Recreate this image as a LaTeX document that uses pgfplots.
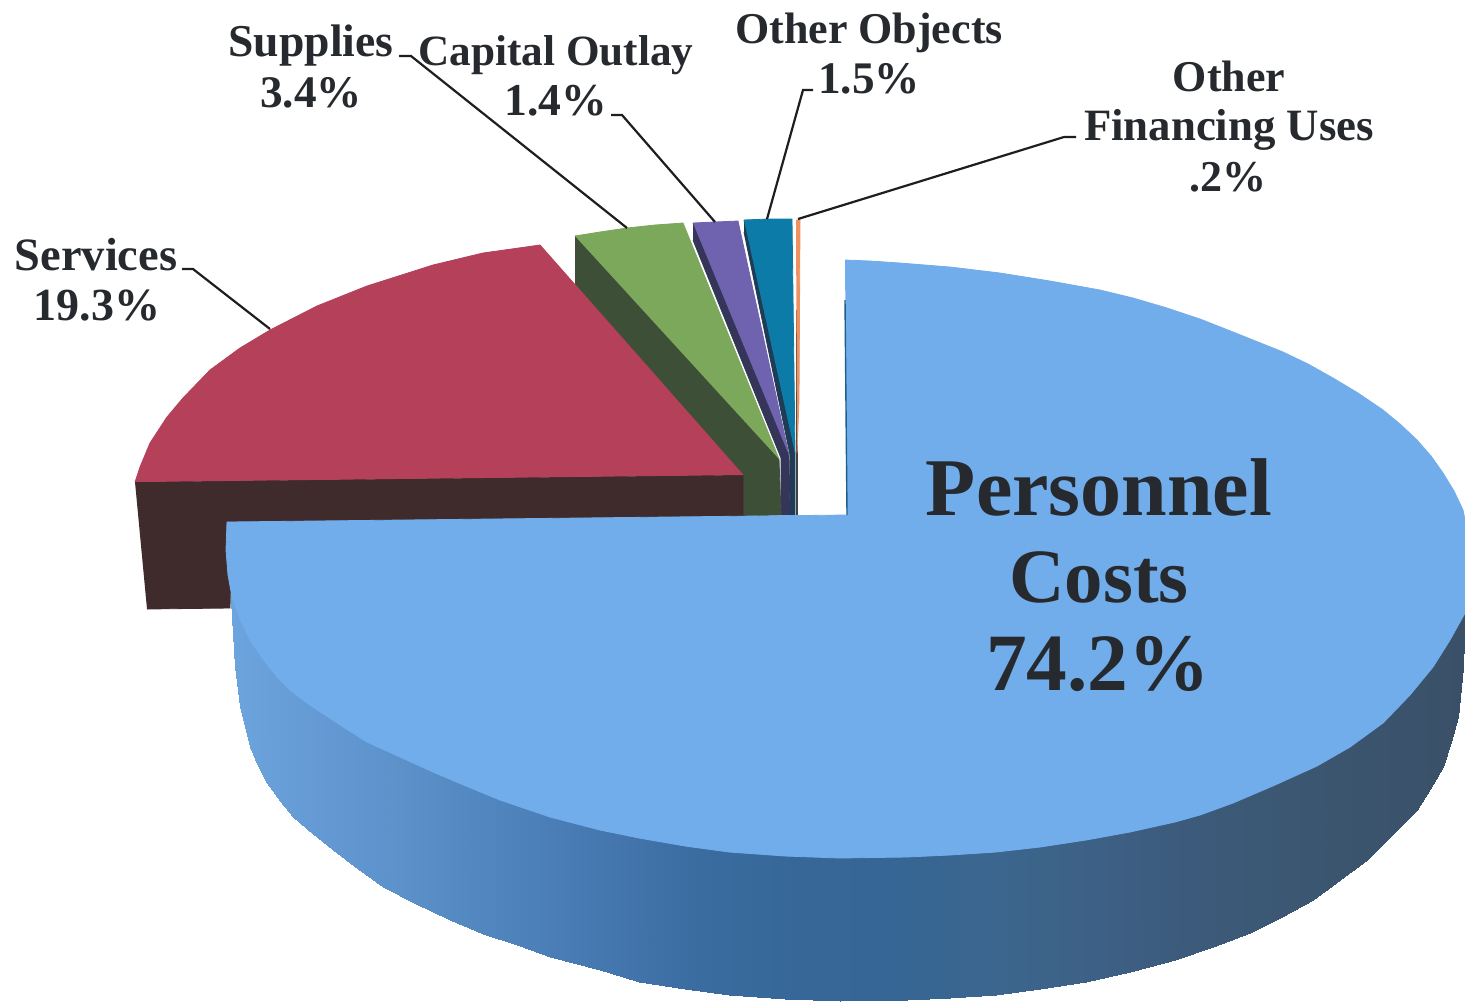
\documentclass[border=0pt]{standalone}
\usepackage{pgfplots}
\pgfplotsset{compat=1.18}
\usepackage{fontspec}
\setmainfont{Liberation Serif}
\definecolor{txt}{HTML}{262A2E}
\definecolor{lead}{HTML}{1E1E1E}
\definecolor{orangeslice}{HTML}{EE9060}
\definecolor{tealside}{HTML}{1E3C55}
\definecolor{tealtop}{HTML}{0C7BA8}
\definecolor{purpleside}{HTML}{35355A}
\definecolor{purpletop}{HTML}{6F62AE}
\definecolor{greenside}{HTML}{3E4F38}
\definecolor{greentop}{HTML}{7BA85A}
\definecolor{redside}{HTML}{402B2C}
\definecolor{redtop}{HTML}{B5405A}
\definecolor{bluetop}{HTML}{72ADEB}
\definecolor{edgeblue}{HTML}{1E5F8A}
\newcommand\poly[2]{\addplot[fill=#1,draw=#1,line width=.4pt] coordinates {#2};}
\newcommand\leader[1]{\addplot[draw=lead,line width=1.1pt] coordinates {#1};}
\newcommand\lab[4]{\node[anchor=base,inner sep=0pt,text=txt,font=\fontsize{#3}{#3}\selectfont\bfseries] at (axis cs:#1,#2) {#4};}
\begin{document}
\begin{tikzpicture}
\begin{axis}[
  scale only axis, width=732.5pt, height=501.5pt,
  xmin=0, xmax=1465, ymin=0, ymax=1003, y dir=reverse,
  hide axis, clip=true, clip mode=individual,
  colormap={wall}{rgb255(231pt)=(108,164,222); rgb255(300pt)=(102,156,214); rgb255(400pt)=(92,145,202);
    rgb255(500pt)=(80,132,188); rgb255(600pt)=(70,120,176); rgb255(700pt)=(58,108,160); rgb255(800pt)=(54,103,152);
    rgb255(900pt)=(54,102,148); rgb255(1000pt)=(60,102,142); rgb255(1100pt)=(61,96,133); rgb255(1200pt)=(60,90,122);
    rgb255(1313pt)=(59,86,112); rgb255(1465pt)=(58,80,104)},
  point meta min=231, point meta max=1465]
% page frame
\addplot[fill=white,draw=none] coordinates {(0,0) (1465,0) (1465,1003) (0,1003)};
% Other Financing Uses
\addplot[draw=black!75,line width=.8pt] coordinates {(797,310) (797,515)};
\poly{orangeslice}{(796,220) (800,220) (799,400) (797,453)}
% Other Objects side and top
\poly{tealside}{(744,220) (795,453) (795,515) (790,515) (790,455) (744,232)}
\poly{tealtop}{(744,220) (768,219) (792,219) (795,453)}
% Capital Outlay side and top
\poly{purpleside}{(693,223) (789,455) (790,515) (781,515) (781,458) (693,240)}
\poly{purpletop}{(693,223) (715,222) (738,221) (789,455)}
% Supplies side and top
\poly{greenside}{(575,236) (779,459) (781,515) (743,516) (743,475) (575,285)}
\poly{greentop}{(575,236) (600,232) (627,228) (655,225) (683,223) (779,459)}
% Services side and top
\poly{redside}{(135,482) (743,475) (743,518) (232,522) (230,608) (147,609)}
\poly{redtop}{(135,482) (140,467) (150,443) (167,417) (183,398) (210,370) (240,348) (270,330) (317,306) (367,286) (433,265) (483,253) (540,245) (743,475)}
% Personnel Costs wall
\addplot[patch, patch type=rectangle, mesh input=lattice, mesh/cols=2, shader=interp, point meta=\thisrow{x}] table {
x y
231 590
231 600
235 590
235 667
240 600
240 707
250 620
250 747
258 632
258 766
267 642
267 783
280 657
280 801
293 672
293 817
313 690
313 834
333 702
333 850
358 716
358 869
383 730
383 887
416 745
416 904
450 758
450 920
483 770
483 934
517 785
517 945
550 797
550 957
600 810
600 970
639 818
639 982
685 825
685 989
729 832
729 995
785 836
785 999
840 838
840 1001
907 837
907 1000
950 835
950 998
996 832
996 995
1040 826
1040 989
1086 820
1086 982
1130 812
1130 972
1175 802
1175 960
1213 790
1213 947
1250 775
1250 933
1282 760
1282 917
1313 745
1313 900
1340 730
1340 880
1367 712
1367 860
1392 690
1392 835
1417 665
1417 810
1430 650
1430 789
1443 630
1443 767
1451 615
1451 742
1458 600
1458 717
1463 590
1463 667
1465 590
1465 613
};
% Personnel Costs top
\poly{bluetop}{(845,260) (870,261) (900,263) (950,267) (1000,273) (1050,281) (1100,290) (1133,298) (1167,308) (1200,319) (1233,332) (1258,342) (1283,352) (1308,364) (1333,378) (1358,393) (1383,410) (1400,424) (1417,440) (1431,456) (1443,473) (1454,491) (1463,510) (1465,520) (1465,613) (1450,640) (1433,667) (1410,695) (1383,723) (1350,747) (1317,766) (1275,785) (1233,803) (1200,815) (1175,822) (1130,832) (1086,840) (1040,847) (996,852) (950,855) (907,857) (840,858) (785,856) (729,852) (685,846) (639,838) (600,830) (550,817) (500,800) (466,786) (433,772) (400,757) (367,742) (337,723) (307,703) (290,690) (277,677) (263,659) (250,640) (240,619) (232,597) (228,575) (226,550) (227,522) (847,515)}
\addplot[draw=edgeblue,line width=.7pt] coordinates {(845,300) (847,515)};
% leaders
\leader{(182,269) (193,269) (270,329)}
\leader{(399,56) (411,56) (627,228)}
\leader{(611,115) (622,115) (715,222)}
\leader{(813,90) (803,90) (767,219)}
\leader{(1076,137) (1064,137) (798,219)}
% labels
\lab{311}{56}{22.8}{Supplies}
\lab{311}{107}{22.6}{3.4\%}
\lab{556}{65}{21.6}{Capital Outlay}
\lab{556}{115}{22.8}{1.4\%}
\lab{869}{43}{22}{Other Objects}
\lab{869}{93}{22.6}{1.5\%}
\lab{1229}{91}{22}{Other}
\lab{1229}{140}{22.4}{Financing Uses}
\lab{1228}{191}{22}{.2\%}
\lab{96}{270}{23.2}{Services}
\lab{97}{320}{23}{19.3\%}
\lab{1099}{515}{41}{Personnel}
\lab{1099}{602}{38.4}{Costs}
\lab{1098}{690}{40.7}{74.2\%}
\end{axis}
\end{tikzpicture}
\end{document}
